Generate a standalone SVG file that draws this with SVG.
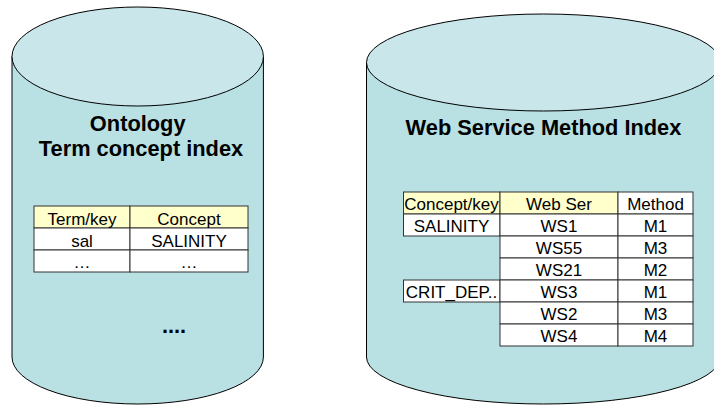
<svg xmlns="http://www.w3.org/2000/svg" width="714" height="405" viewBox="0 0 714 405">
<style>
.body{fill:#b9e0e3;stroke:#000;stroke-width:1}
.top{fill:#c9e7ea;stroke:#000;stroke-width:1}
.title{font-family:"Liberation Sans",Arial,sans-serif;font-weight:bold;font-size:21.8px;text-anchor:middle;fill:#000}
.t{font-family:"Liberation Sans",Arial,sans-serif;font-size:17px;text-anchor:middle;fill:#000}
.hy{fill:#ffffcc;stroke:#333;stroke-width:1}
.cw{fill:#fff;stroke:#333;stroke-width:1}
</style>
<rect width="714" height="405" fill="#fff"/>
<g id="ontology-db">
<path class="body" d="M12,56.5 L12,357 A125.7,47 0 0 0 263.4,357 L263.4,56.5 Z"/>
<ellipse class="top" cx="137.7" cy="56.5" rx="125.7" ry="49.5"/>
<text class="title" x="137.7" y="131">Ontology</text>
<text class="title" x="141" y="156">Term concept index</text>
<g id="term-table">
<rect class="hy" x="34" y="206" width="96" height="22"/>
<rect class="hy" x="130" y="206" width="118" height="22"/>
<rect class="cw" x="34" y="228" width="96" height="22"/>
<rect class="cw" x="130" y="228" width="118" height="22"/>
<rect class="cw" x="34" y="250" width="96" height="22"/>
<rect class="cw" x="130" y="250" width="118" height="22"/>
<text class="t" x="82" y="224.5">Term/key</text>
<text class="t" x="189" y="224.5">Concept</text>
<text class="t" x="82" y="246.5">sal</text>
<text class="t" x="189" y="246.5">SALINITY</text>
<text class="t" x="82" y="268">…</text>
<text class="t" x="189" y="268">…</text>
</g>
<text class="title" x="174" y="332.5">....</text>
</g>
<g id="ws-db">
<path class="body" d="M366.5,62.5 L366.5,357 A177,47 0 0 0 720.5,357 L720.5,62.5 Z"/>
<ellipse class="top" cx="543.5" cy="62.5" rx="177" ry="48.5"/>
<text class="title" x="543.5" y="135">Web Service Method Index</text>
<g id="ws-table">
<rect class="hy" x="403.5" y="192" width="96.5" height="22"/>
<rect class="hy" x="500" y="192" width="118" height="22"/>
<rect class="cw" x="618" y="192" width="75" height="22"/>
<rect class="cw" x="403.5" y="214" width="96.5" height="22"/>
<rect class="cw" x="403.5" y="280" width="96.5" height="22"/>
<rect class="cw" x="500" y="214" width="118" height="22"/>
<rect class="cw" x="618" y="214" width="75" height="22"/>
<rect class="cw" x="500" y="236" width="118" height="22"/>
<rect class="cw" x="618" y="236" width="75" height="22"/>
<rect class="cw" x="500" y="258" width="118" height="22"/>
<rect class="cw" x="618" y="258" width="75" height="22"/>
<rect class="cw" x="500" y="280" width="118" height="22"/>
<rect class="cw" x="618" y="280" width="75" height="22"/>
<rect class="cw" x="500" y="302" width="118" height="22"/>
<rect class="cw" x="618" y="302" width="75" height="22"/>
<rect class="cw" x="500" y="324" width="118" height="22"/>
<rect class="cw" x="618" y="324" width="75" height="22"/>
<text class="t" x="451.5" y="209.5">Concept/key</text>
<text class="t" x="559" y="209.5">Web Ser</text>
<text class="t" x="655.5" y="209.5">Method</text>
<text class="t" x="451.5" y="231.5">SALINITY</text>
<text class="t" x="559" y="231.5">WS1</text>
<text class="t" x="655.5" y="231.5">M1</text>
<text class="t" x="559" y="253.5">WS55</text>
<text class="t" x="655.5" y="253.5">M3</text>
<text class="t" x="559" y="275.5">WS21</text>
<text class="t" x="655.5" y="275.5">M2</text>
<text class="t" x="451.5" y="297.5">CRIT_DEP..</text>
<text class="t" x="559" y="297.5">WS3</text>
<text class="t" x="655.5" y="297.5">M1</text>
<text class="t" x="559" y="319.5">WS2</text>
<text class="t" x="655.5" y="319.5">M3</text>
<text class="t" x="559" y="341.5">WS4</text>
<text class="t" x="655.5" y="341.5">M4</text>
</g>
</g>
<g id="connectors"/>
</svg>
